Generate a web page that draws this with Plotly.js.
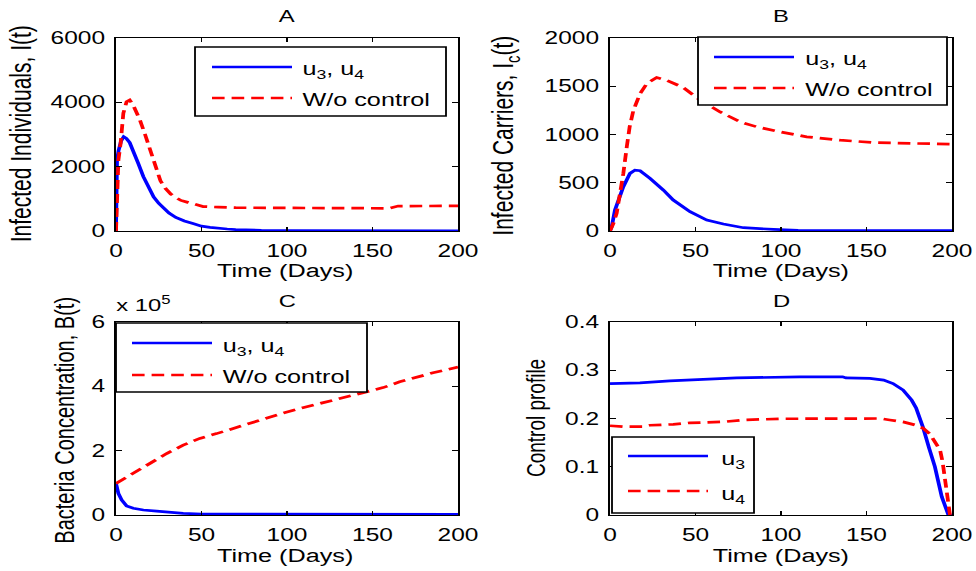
<!DOCTYPE html>
<html>
<head>
<meta charset="utf-8">
<script src="https://cdn.plot.ly/plotly-3.0.1.min.js"></script>
<style>
  html, body { margin: 0; padding: 0; background: #fff; overflow: hidden; }
  #wrap { width: 976px; height: 571px; overflow: hidden; }
  #plot { width: 697px; height: 571px; transform: scaleX(1.40029); transform-origin: 0 0; }
</style>
</head>
<body>
<div id="wrap"><div id="plot"></div></div>
<script>
// ---------- Data ----------
// Panel A: Infected Individuals I(t)
const tA_ctrl = [0, 0.3, 0.6, 1.5, 3, 4.5, 6, 8, 10, 13, 16, 19, 22, 25, 28, 31, 35, 40, 45, 50, 55, 60, 65, 70, 76, 85, 100, 120, 150, 200];
const IA_ctrl = [0, 1000, 2200, 2500, 2800, 2930, 2880, 2750, 2520, 2100, 1690, 1350, 1060, 860, 690, 560, 420, 310, 230, 150, 115, 80, 62, 45, 30, 20, 12, 8, 6, 5];
const tA_none = [0, 0.7, 1.4, 2.7, 4.3, 6.2, 8, 10, 12, 14, 17, 20, 23, 26, 29, 32, 35, 38, 42, 46, 51, 60, 70, 90, 120, 160, 165, 200];
const IA_none = [0, 800, 2200, 2730, 3660, 4020, 4070, 3920, 3700, 3450, 3000, 2500, 2020, 1560, 1320, 1150, 1040, 950, 890, 830, 760, 740, 725, 720, 715, 705, 775, 780];

// Panel B: Infected Carriers Ic(t)
const tB_ctrl = [0, 1, 2.9, 4.9, 7.8, 11.7, 14.6, 17.6, 23.4, 31.2, 37, 46.8, 56.6, 66.3, 78, 95.6, 110, 150, 200];
const IB_ctrl = [0, 45, 217, 320, 459, 597, 631, 624, 545, 424, 321, 200, 114, 72, 34, 17, 6, 4, 3];
const tB_none = [0, 2, 3.9, 6, 7.8, 9.8, 11.5, 13.7, 17.6, 21.5, 27.3, 33.2, 42.9, 52.7, 64.4, 76.1, 85.9, 99.5, 115, 134.6, 154, 179.5, 200];
const IB_none = [0, 80, 183, 400, 597, 872, 1080, 1252, 1424, 1527, 1590, 1562, 1486, 1355, 1234, 1131, 1079, 1027, 976, 941, 917, 907, 900];

// Panel C: Bacteria Concentration B(t)
const tC_ctrl = [0, 1.4, 3.3, 6.2, 10.1, 16, 23.8, 33.5, 39.3, 50, 100, 200];
const BC_ctrl = [0.98e5, 0.67e5, 0.47e5, 0.28e5, 0.21e5, 0.155e5, 0.12e5, 0.08e5, 0.05e5, 0.03e5, 0.02e5, 0.02e5];
const tC_none = [0, 10.1, 19.9, 29.6, 39.3, 49, 58.8, 68.5, 78.3, 88, 97.8, 107.5, 117.2, 127, 136.7, 146.4, 156.2, 165.9, 175.7, 185.4, 200];
const BC_none = [0.98e5, 1.29e5, 1.60e5, 1.91e5, 2.17e5, 2.38e5, 2.53e5, 2.69e5, 2.86e5, 3.03e5, 3.17e5, 3.31e5, 3.44e5, 3.57e5, 3.69e5, 3.83e5, 3.96e5, 4.14e5, 4.29e5, 4.42e5, 4.60e5];

// Panel D: Control profile
const tD_u3 = [0, 17.5, 35, 50.6, 74, 111, 136, 138, 152, 160, 165.5, 171.4, 176.4, 179, 183.2, 186.5, 190, 194, 197.9, 200];
const u3 = [0.2724, 0.274, 0.278, 0.281, 0.284, 0.2864, 0.2864, 0.284, 0.283, 0.2795, 0.2725, 0.259, 0.238, 0.222, 0.180, 0.140, 0.100, 0.038, 0, 0];
const tD_u4 = [0, 7.8, 19.5, 23.4, 37, 46.7, 66, 78, 99.3, 158, 163.6, 171.4, 179, 183, 187, 190, 193, 194.5, 196, 197.7, 198.8, 200];
const u4 = [0.185, 0.183, 0.183, 0.186, 0.188, 0.191, 0.193, 0.197, 0.1994, 0.2, 0.197, 0.193, 0.186, 0.180, 0.168, 0.151, 0.135, 0.11, 0.066, 0.017, 0, 0];

// Tick labels
const xTicks = [0, 50, 100, 150, 200];
const yTicksA = [0, 2000, 4000, 6000];
const yTicksB = [0, 500, 1000, 1500, 2000];
const yTicksC = [0, 2e5, 4e5, 6e5];
const yTickTextC = ['0', '2', '4', '6'];
const yTicksD = [0, 0.1, 0.2, 0.3, 0.4];
const yTickTextD = ['0', '0.1', '0.2', '0.3', '0.4'];

// Text
const panelTitles = ['A', 'B', 'C', 'D'];
const xTitle = 'Time (Days)';
const yTitles = ['Infected Individuals, I(t)', 'Infected Carriers, I<sub>c</sub>(t)', 'Bacteria Concentration, B(t)', 'Control profile'];
const legendCtrl = 'u<sub>3</sub>, u<sub>4</sub>';
const legendNone = 'W/o control';

// ---------- Layout helpers (screen px -> paper) ----------
const W = 976, H = 571;
const PX = p => p / W;
const PY = p => 1 - p / H;
const FONT = 'Liberation Sans, Arial, Helvetica, sans-serif';
const BLUE = '#0000FF', RED = '#FF0000';
const LW = 2.7;
const DASH = '9px,5px';

function line(x, y, color, dash, xa, ya) {
  return { x: x, y: y, type: 'scatter', mode: 'lines', xaxis: xa, yaxis: ya, showlegend: false,
           line: { color: color, width: LW, dash: dash || 'solid' }, hoverinfo: 'skip' };
}

const traces = [
  line(tA_ctrl, IA_ctrl, BLUE, null, 'x', 'y'),
  line(tA_none, IA_none, RED, DASH, 'x', 'y'),
  line(tB_ctrl, IB_ctrl, BLUE, null, 'x2', 'y2'),
  line(tB_none, IB_none, RED, DASH, 'x2', 'y2'),
  line(tC_ctrl, BC_ctrl, BLUE, null, 'x3', 'y3'),
  line(tC_none, BC_none, RED, DASH, 'x3', 'y3'),
  line(tD_u3, u3, BLUE, null, 'x4', 'y4'),
  line(tD_u4, u4, RED, DASH, 'x4', 'y4')
];

const colL = [PX(116), PX(458)];
const colR = [PX(610), PX(952)];
const rowT = [PY(231), PY(38)];
const rowB = [PY(515), PY(322)];

function xax(domain, anchor) {
  return { domain: domain, anchor: anchor, range: [0, 200], tickvals: xTicks, ticks: 'inside', ticklen: 4,
           tickcolor: '#000', showline: true, linecolor: '#000', linewidth: 1.3, mirror: 'ticks',
           showgrid: false, zeroline: false, ticklabelstandoff: 4,
           tickfont: { family: FONT, size: 17.5, color: '#000' } };
}
function yax(domain, anchor, range, vals, text) {
  const a = { domain: domain, anchor: anchor, range: range, tickvals: vals, ticks: 'inside', ticklen: 4,
           tickcolor: '#000', showline: true, linecolor: '#000', linewidth: 1.3, mirror: 'ticks',
           showgrid: false, zeroline: false, ticklabelstandoff: 3,
           tickfont: { family: FONT, size: 17.5, color: '#000' } };
  if (text) a.ticktext = text;
  return a;
}

const ann = [];
function txt(text, x, y, opts) {
  ann.push(Object.assign({ text: text, xref: 'paper', yref: 'paper', x: PX(x), y: PY(y), showarrow: false,
    xanchor: 'center', yanchor: 'middle', font: { family: FONT, size: 17, color: '#000' } }, opts || {}));
}
// panel titles
txt(panelTitles[0], 287, 17);
txt(panelTitles[1], 781, 17);
txt(panelTitles[2], 287, 301);
txt(panelTitles[3], 781, 301);
// x-axis titles
const xt = { font: { family: FONT, size: 18, color: '#000' } };
txt(xTitle, 285, 271, xt);
txt(xTitle, 781, 271, xt);
txt(xTitle, 285, 556, xt);
txt(xTitle, 781, 556, xt);
// y-axis titles
const yt = s => ({ textangle: -90, font: { family: FONT, size: s, color: '#000' } });
txt(yTitles[0], 20, 134, yt(21));
txt(yTitles[1], 505, 136, yt(21));
txt(yTitles[2], 64, 420, yt(20));
txt(yTitles[3], 535, 418, yt(19));
// exponent label
txt('x 10<sup>5</sup>', 114, 304, { xanchor: 'left', font: { family: FONT, size: 17, color: '#000' } });

const shapes = [];
function legend(box, blueY, redY, sx0, sx1, tx, t1, t2, t1y, t2y) {
  shapes.push({ type: 'rect', xref: 'paper', yref: 'paper', x0: PX(box[0]), x1: PX(box[1]), y0: PY(box[3]), y1: PY(box[2]),
                line: { color: '#000', width: 1.3 }, fillcolor: '#fff', layer: 'above' });
  shapes.push({ type: 'line', xref: 'paper', yref: 'paper', x0: PX(sx0), x1: PX(sx1), y0: PY(blueY), y1: PY(blueY),
                line: { color: BLUE, width: LW }, layer: 'above' });
  shapes.push({ type: 'line', xref: 'paper', yref: 'paper', x0: PX(sx0), x1: PX(sx1), y0: PY(redY), y1: PY(redY),
                line: { color: RED, width: LW, dash: DASH }, layer: 'above' });
  const lf = { xanchor: 'left', font: { family: FONT, size: 18, color: '#000' } };
  txt(t1, tx, t1y, lf);
  txt(t2, tx, t2y, lf);
}
legend([195, 446, 47, 116], 67, 98, 212, 292, 300, legendCtrl, legendNone, 71, 100);
legend([698, 947, 37, 105], 57, 88, 714, 794, 802, legendCtrl, legendNone, 61, 90);
legend([116, 367, 323, 392], 343, 375, 132, 212, 220, legendCtrl, legendNone, 347, 377);
legend([612, 754, 437, 513], 456, 491, 628, 708, 718, 'u<sub>3</sub>', 'u<sub>4</sub>', 460, 495);

const layout = {
  width: 697, height: 571,
  margin: { l: 0, r: 0, t: 0, b: 0 },
  paper_bgcolor: '#fff', plot_bgcolor: '#fff',
  showlegend: false,
  font: { family: FONT, color: '#000' },
  xaxis: xax(colL, 'y'),
  yaxis: yax(rowT, 'x', [0, 6000], yTicksA),
  xaxis2: xax(colR, 'y2'),
  yaxis2: yax(rowT, 'x2', [0, 2000], yTicksB),
  xaxis3: xax(colL, 'y3'),
  yaxis3: yax(rowB, 'x3', [0, 6e5], yTicksC, yTickTextC),
  xaxis4: xax(colR, 'y4'),
  yaxis4: yax(rowB, 'x4', [0, 0.4], yTicksD, yTickTextD),
  annotations: ann,
  shapes: shapes
};

Plotly.newPlot('plot', traces, layout, { displayModeBar: false, staticPlot: true, responsive: false });
</script>
</body>
</html>
